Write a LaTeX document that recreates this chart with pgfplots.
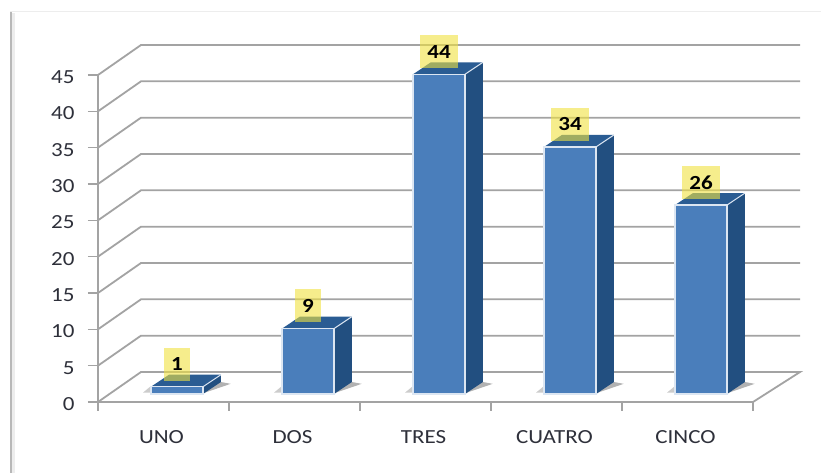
\documentclass[border=0pt]{standalone}
\usepackage{pgfplots}
\pgfplotsset{compat=1.18}
\usepackage{fontspec}
\setmainfont[FakeStretch=1.15]{Carlito}
\definecolor{gridc}{HTML}{A3A3A3}
\definecolor{txt}{HTML}{2E303A}
\definecolor{front}{HTML}{4A7EBB}
\definecolor{side}{HTML}{224F80}
\definecolor{topc}{HTML}{2A5C93}
\definecolor{edge}{HTML}{DCE6F2}
\definecolor{lab}{HTML}{F0E240}
\begin{document}
\begin{tikzpicture}[x=1pt,y=1pt]
\path[use as bounding box,fill=white] (0,0) rectangle (821,473);
% frame of the picture
\draw[line width=4pt,black!7] (13,0) -- (13,460);
\draw[line width=2.4pt,black!28] (11,0) -- (11,461);
\draw[line width=1pt,black!7] (10,461) -- (821,461);
\begin{axis}[
  at={(98pt,71pt)},anchor=origin,scale only axis,width=655pt,height=327pt,
  xmin=0,xmax=5,ymin=0,ymax=45,clip=false,
  axis x line*=bottom,axis y line*=left,axis line style={gridc,line width=1.8pt,-},
  xtick={0.5,1.5,2.5,3.5,4.5},xticklabels={UNO,DOS,TRES,CUATRO,CINCO},
  minor xtick={0,1,2,3,4,5},
  ytick={0,5,...,45},
  major x tick style={draw=none},
  minor tick length=9pt,
  major tick length=10pt,
  every tick/.style={gridc,line width=1.4pt},
  tick align=outside,
  xticklabel style={font=\fontsize{20}{22}\selectfont,text=txt,yshift=-15pt,xshift=-2pt},
  yticklabel style={font=\fontsize{20}{22}\selectfont,text=txt,xshift=-10pt,yshift=-2pt},
  /pgf/number format/assume math mode=true,
]
\addplot[gridc,line width=1.8pt] coordinates {(0,0)(.328,4.127)(5.359,4.127)(5,0)};
\addplot[gridc,line width=1.8pt] coordinates {(0,5)(.328,9.127)(5.359,9.127)};
\addplot[gridc,line width=1.8pt] coordinates {(0,10)(.328,14.127)(5.359,14.127)};
\addplot[gridc,line width=1.8pt] coordinates {(0,15)(.328,19.127)(5.359,19.127)};
\addplot[gridc,line width=1.8pt] coordinates {(0,20)(.328,24.127)(5.359,24.127)};
\addplot[gridc,line width=1.8pt] coordinates {(0,25)(.328,29.127)(5.359,29.127)};
\addplot[gridc,line width=1.8pt] coordinates {(0,30)(.328,34.127)(5.359,34.127)};
\addplot[gridc,line width=1.8pt] coordinates {(0,35)(.328,39.127)(5.359,39.127)};
\addplot[gridc,line width=1.8pt] coordinates {(0,40)(.328,44.127)(5.359,44.127)};
\addplot[gridc,line width=1.8pt] coordinates {(0,45)(.328,49.127)(5.359,49.127)};
\end{axis}
\begin{axis}[
  at={(111.5pt,79pt)},anchor=origin,scale only axis,width=655pt,height=327pt,
  xmin=0,xmax=5,ymin=0,ymax=45,clip=false,axis lines=none,
]
% shadows on the floor
\addplot[draw=none,fill=black!30] coordinates {(.6985,.1)(.91,1.4)(.82,1.7)} --cycle;
\addplot[draw=none,fill=black!30] coordinates {(1.6985,.1)(1.91,1.4)(1.82,1.7)} --cycle;
\addplot[draw=none,fill=black!30] coordinates {(2.6985,.1)(2.91,1.4)(2.82,1.7)} --cycle;
\addplot[draw=none,fill=black!30] coordinates {(3.6985,.1)(3.91,1.4)(3.82,1.7)} --cycle;
\addplot[draw=none,fill=black!30] coordinates {(4.6985,.1)(4.91,1.4)(4.82,1.7)} --cycle;
\addplot[draw=none,fill=black!20] coordinates {(.2415,.2)(.3015,1.1)(.3015,.2)} --cycle;
\addplot[draw=none,fill=black!20] coordinates {(1.2415,.2)(1.3015,1.1)(1.3015,.2)} --cycle;
\addplot[draw=none,fill=black!20] coordinates {(2.2415,.2)(2.3015,1.1)(2.3015,.2)} --cycle;
\addplot[draw=none,fill=black!20] coordinates {(3.2415,.2)(3.3015,1.1)(3.3015,.2)} --cycle;
\addplot[draw=none,fill=black!20] coordinates {(4.2415,.2)(4.3015,1.1)(4.3015,.2)} --cycle;
% side faces
\addplot[draw=none,fill=side] coordinates {(.6985,0)(.8355,1.65)(.8355,2.65)(.6985,1)} --cycle;
\addplot[draw=none,fill=side] coordinates {(1.6985,0)(1.8355,1.65)(1.8355,10.65)(1.6985,9)} --cycle;
\addplot[draw=none,fill=side] coordinates {(2.6985,0)(2.8355,1.65)(2.8355,45.65)(2.6985,44)} --cycle;
\addplot[draw=none,fill=side] coordinates {(3.6985,0)(3.8355,1.65)(3.8355,35.65)(3.6985,34)} --cycle;
\addplot[draw=none,fill=side] coordinates {(4.6985,0)(4.8355,1.65)(4.8355,27.65)(4.6985,26)} --cycle;
% top faces
\addplot[draw=none,fill=topc] coordinates {(.3015,1)(.4385,2.65)(.8355,2.65)(.6985,1)} --cycle;
\addplot[draw=none,fill=topc] coordinates {(1.3015,9)(1.4385,10.65)(1.8355,10.65)(1.6985,9)} --cycle;
\addplot[draw=none,fill=topc] coordinates {(2.3015,44)(2.4385,45.65)(2.8355,45.65)(2.6985,44)} --cycle;
\addplot[draw=none,fill=topc] coordinates {(3.3015,34)(3.4385,35.65)(3.8355,35.65)(3.6985,34)} --cycle;
\addplot[draw=none,fill=topc] coordinates {(4.3015,26)(4.4385,27.65)(4.8355,27.65)(4.6985,26)} --cycle;
% light ridge between top and side
\addplot[edge,line width=1pt] coordinates {(.6985,1)(.8355,2.65)};
\addplot[edge,line width=1pt] coordinates {(1.6985,9)(1.8355,10.65)};
\addplot[edge,line width=1pt] coordinates {(2.6985,44)(2.8355,45.65)};
\addplot[edge,line width=1pt] coordinates {(3.6985,34)(3.8355,35.65)};
\addplot[edge,line width=1pt] coordinates {(4.6985,26)(4.8355,27.65)};
% front faces with values
\addplot[ybar,bar width=52pt,bar shift=0pt,fill=front,draw=edge,line width=1.4pt,
  nodes near coords,
  every node near coord/.append style={anchor=south,yshift=5.5pt,
    font=\fontsize{20}{22}\selectfont\bfseries,text=black,
    fill=lab,fill opacity=.6,text opacity=1,inner xsep=7pt,inner ysep=0pt,minimum height=33pt,
    /pgf/number format/assume math mode=true},
] coordinates {(.5,1)(1.5,9)(2.5,44)(3.5,34)(4.5,26)};
\end{axis}
\end{tikzpicture}
\end{document}
